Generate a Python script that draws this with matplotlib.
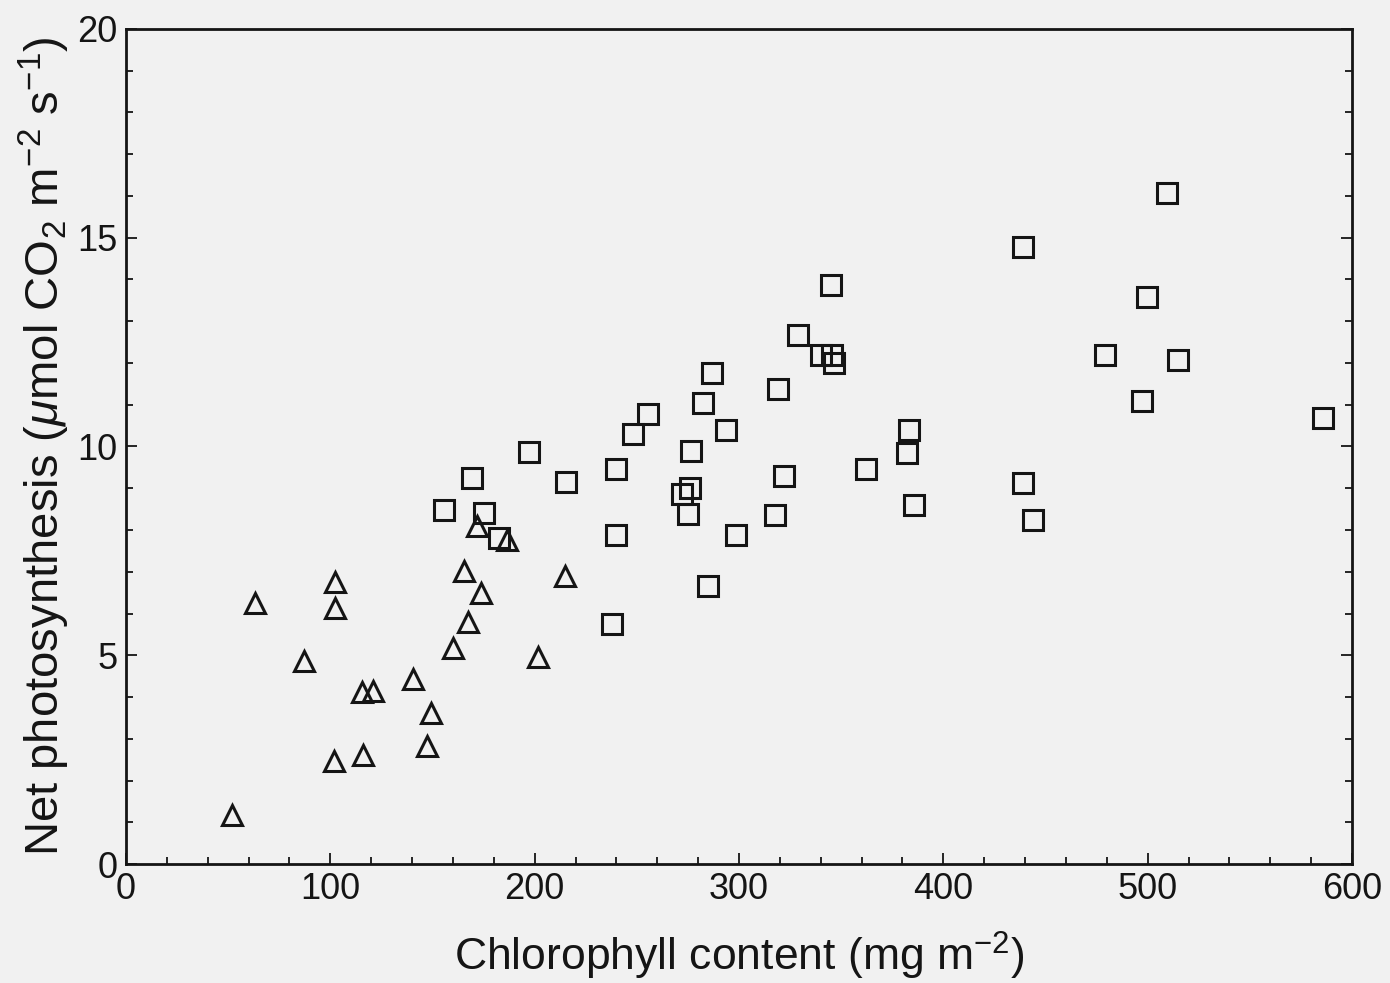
import matplotlib
matplotlib.use("Agg")
import matplotlib.pyplot as plt
from matplotlib.ticker import MultipleLocator

# Triangles (low-chlorophyll group)
tri_x = [52.0, 63.3, 87.3, 102.1, 102.1, 101.6, 115.6, 121.0, 115.8, 140.6,
         149.3, 147.3, 160.0, 165.6, 173.9, 167.2, 201.5, 214.7, 171.6, 186.5]
tri_y = [1.17, 6.24, 4.86, 6.75, 6.12, 2.47, 4.11, 4.15, 2.61, 4.44,
         3.61, 2.83, 5.18, 7.02, 6.48, 5.80, 4.95, 6.89, 8.09, 7.75]

# Squares (high-chlorophyll group)
sq_x = [155.8, 169.3, 175.1, 182.5, 197.4, 215.3, 237.7, 239.8, 239.8, 248.0,
        255.6, 272.3, 276.0, 274.9, 276.4, 282.2, 284.7, 286.8, 293.5, 298.4,
        317.6, 318.9, 322.2, 329.0, 344.9, 340.1, 345.5, 346.5, 362.2, 382.4,
        383.3, 385.8, 439.1, 439.1, 443.7, 479.0, 497.1, 499.5, 509.6, 514.9,
        585.7]
sq_y = [8.49, 9.25, 8.41, 7.82, 9.87, 9.14, 5.76, 9.45, 7.89, 10.29,
        10.78, 8.87, 9.01, 8.39, 9.89, 11.04, 6.67, 11.75, 10.40, 7.87,
        8.35, 11.38, 9.30, 12.68, 13.88, 12.20, 12.20, 12.01, 9.47, 9.84,
        10.40, 8.59, 14.77, 9.12, 8.23, 12.18, 11.08, 13.57, 16.06, 12.07,
        10.68]

x_ticks = [0, 100, 200, 300, 400, 500, 600]
y_ticks = [0, 5, 10, 15, 20]

plt.rcParams['font.family'] = ['Liberation Sans', 'DejaVu Sans']
plt.rcParams['mathtext.fontset'] = 'custom'
plt.rcParams['mathtext.rm'] = 'Liberation Sans'
plt.rcParams['mathtext.it'] = 'Liberation Sans:italic'

bg = '#f1f1f1'
ink = '#151515'
fig = plt.figure(figsize=(13.9, 9.83), dpi=100, facecolor=bg)
ax = fig.add_axes([126/1390, 1 - 864/983, (1352-126)/1390, (864-29)/983])
ax.set_facecolor(bg)

ax.plot(sq_x, sq_y, linestyle='none', marker='s', markersize=14.5,
        markerfacecolor='none', markeredgecolor=ink, markeredgewidth=2.2)
ax.plot(tri_x, tri_y, linestyle='none', marker='^', markersize=15,
        markerfacecolor='none', markeredgecolor=ink, markeredgewidth=2.2)

ax.set_xlim(0, 600)
ax.set_ylim(0, 20)
ax.set_xticks(x_ticks)
ax.set_yticks(y_ticks)
ax.xaxis.set_minor_locator(MultipleLocator(20))
ax.yaxis.set_minor_locator(MultipleLocator(1))
ax.tick_params(which='both', direction='in', top=False, right=True,
               colors=ink, width=1.3)
ax.tick_params(which='major', length=8, labelsize=26, pad=6)
ax.tick_params(which='minor', length=5)
for s in ax.spines.values():
    s.set_linewidth(2.0)
    s.set_color(ink)

ax.set_xlabel(r'Chlorophyll content (mg m$^{-2}$)', fontsize=32, labelpad=16,
              color=ink)
ax.set_ylabel(r'Net photosynthesis ($\mu$mol CO$_2$ m$^{-2}$ s$^{-1}$)',
              fontsize=34, labelpad=4, color=ink)

fig.savefig('out.png', dpi=100, facecolor=bg)
